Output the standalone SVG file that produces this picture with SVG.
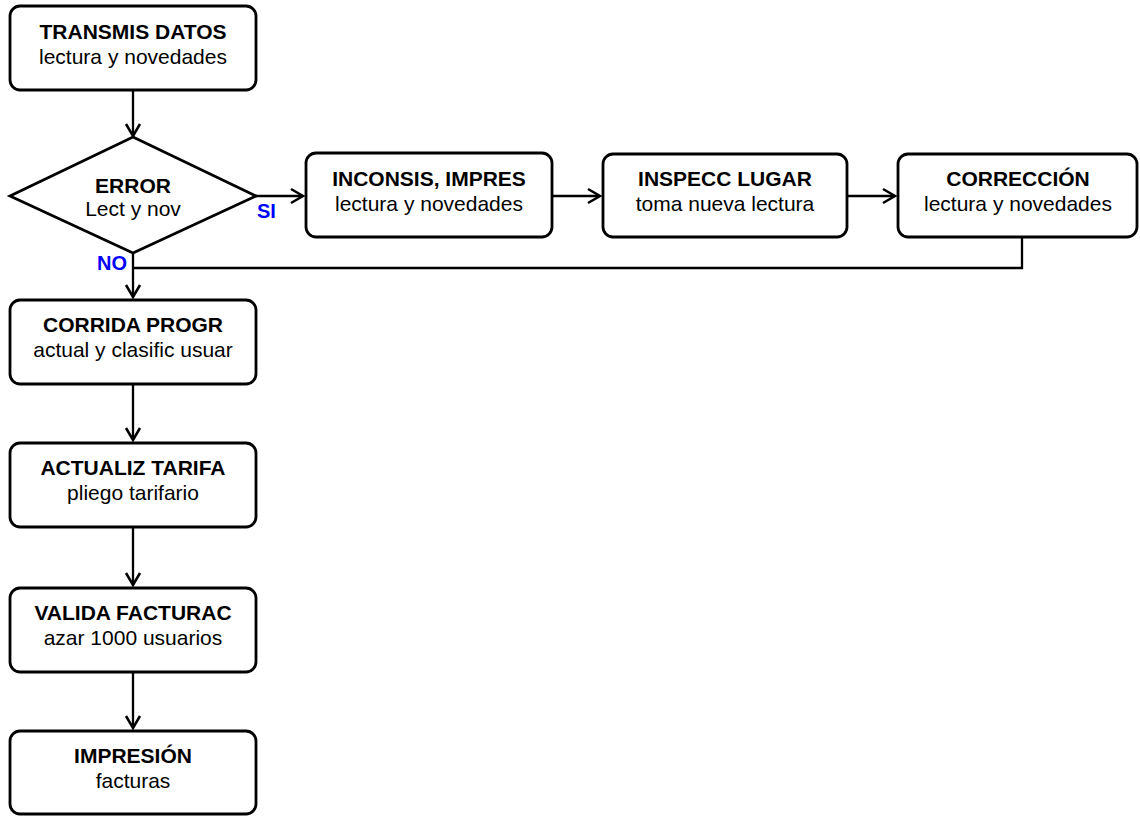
<svg xmlns="http://www.w3.org/2000/svg" width="1140" height="816" viewBox="0 0 1140 816">
<style>
.box{fill:#fff;stroke:#000;stroke-width:2.8}
.t{font-family:Arial,"Liberation Sans",Helvetica,sans-serif;font-size:21px;text-anchor:middle;fill:#000}
.b{font-weight:bold}
.lbl{font-family:Arial,"Liberation Sans",Helvetica,sans-serif;font-size:20px;font-weight:bold;fill:#0000ff}
.c{fill:none;stroke:#000;stroke-width:2.3}
</style>
<defs>
<marker id="ah" markerUnits="userSpaceOnUse" markerWidth="16" markerHeight="18" refX="13" refY="8" orient="auto" overflow="visible">
<path d="M1,1 L13,8 L1,15" fill="none" stroke="#000" stroke-width="2.5"/>
</marker>
</defs>
<rect width="1140" height="816" fill="#fff"/>
<g id="connectors">
<line class="c" x1="133" y1="91" x2="133" y2="136" marker-end="url(#ah)"/>
<line class="c" x1="256" y1="196" x2="303" y2="196" marker-end="url(#ah)"/>
<line class="c" x1="552" y1="196" x2="600" y2="196" marker-end="url(#ah)"/>
<line class="c" x1="847" y1="196" x2="895" y2="196" marker-end="url(#ah)"/>
<polyline class="c" points="1022,238 1022,268 133,268"/>
<line class="c" x1="133" y1="253" x2="133" y2="297" marker-end="url(#ah)"/>
<line class="c" x1="133" y1="385" x2="133" y2="440" marker-end="url(#ah)"/>
<line class="c" x1="133" y1="528" x2="133" y2="585" marker-end="url(#ah)"/>
<line class="c" x1="133" y1="673" x2="133" y2="728" marker-end="url(#ah)"/>
<text class="lbl" x="257" y="218">SI</text>
<text class="lbl" x="97" y="270">NO</text>
</g>
<g id="n_transmis">
<rect class="box" x="10" y="6" width="246" height="84" rx="10"/>
<text class="t b" x="133" y="39">TRANSMIS DATOS</text>
<text class="t" x="133" y="64">lectura y novedades</text>
</g>
<g id="n_error">
<polygon class="box" points="133,137 256,196 133,253 10,196"/>
<text class="t b" x="133" y="193">ERROR</text>
<text class="t" x="133" y="216">Lect y nov</text>
</g>
<g id="n_inconsis">
<rect class="box" x="306" y="153" width="246" height="84" rx="10"/>
<text class="t b" x="429" y="186">INCONSIS, IMPRES</text>
<text class="t" x="429" y="211">lectura y novedades</text>
</g>
<g id="n_inspecc">
<rect class="box" x="603" y="154" width="244" height="83" rx="10"/>
<text class="t b" x="725" y="186">INSPECC LUGAR</text>
<text class="t" x="725" y="211">toma nueva lectura</text>
</g>
<g id="n_correccion">
<rect class="box" x="898" y="154" width="239" height="83" rx="10"/>
<text class="t b" x="1018" y="186">CORRECCIÓN</text>
<text class="t" x="1018" y="211">lectura y novedades</text>
</g>
<g id="n_corrida">
<rect class="box" x="10" y="300" width="246" height="84" rx="10"/>
<text class="t b" x="133" y="332">CORRIDA PROGR</text>
<text class="t" x="133" y="357">actual y clasific usuar</text>
</g>
<g id="n_actualiz">
<rect class="box" x="10" y="443" width="246" height="84" rx="10"/>
<text class="t b" x="133" y="475">ACTUALIZ TARIFA</text>
<text class="t" x="133" y="500">pliego tarifario</text>
</g>
<g id="n_valida">
<rect class="box" x="10" y="588" width="246" height="84" rx="10"/>
<text class="t b" x="133" y="620">VALIDA FACTURAC</text>
<text class="t" x="133" y="645">azar 1000 usuarios</text>
</g>
<g id="n_impresion">
<rect class="box" x="10" y="731" width="246" height="83" rx="10"/>
<text class="t b" x="133" y="763">IMPRESIÓN</text>
<text class="t" x="133" y="788">facturas</text>
</g>
</svg>
